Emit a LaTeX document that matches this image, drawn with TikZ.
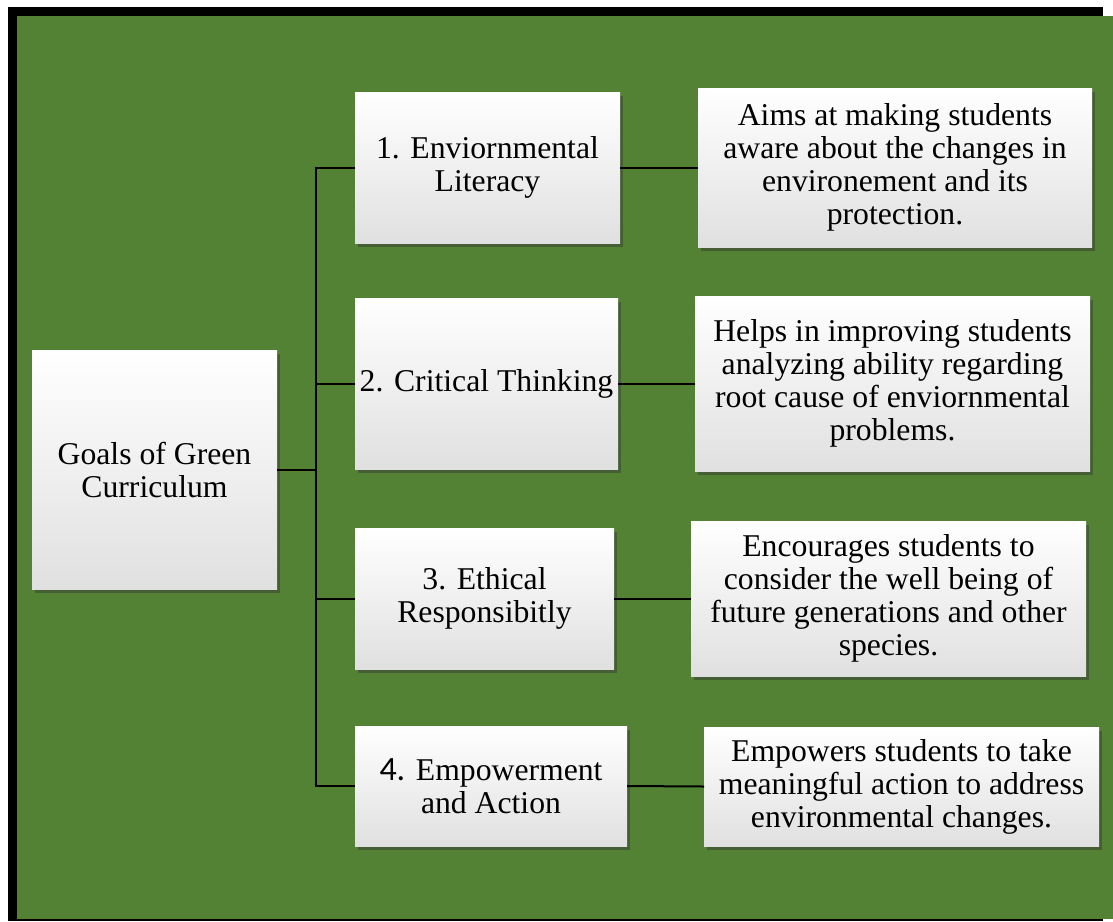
\documentclass[tikz,border=0pt]{standalone}
\usepackage{fontspec}
\setmainfont{Liberation Serif}
\newfontfamily\tnr{Liberation Serif}
\newfontfamily\calib{Carlito}
\usetikzlibrary{shadows}
\definecolor{bggreen}{RGB}{84,130,53}
\definecolor{boxgray}{RGB}{224,224,224}
\tikzset{
  box/.style={rectangle, inner sep=0pt, outer sep=0pt, align=center,
    top color=white, middle color=white, bottom color=boxgray,
    font=\tnr\fontsize{31.7}{33}\selectfont,
    drop shadow={shadow xshift=3pt, shadow yshift=-4pt, opacity=0.45, fill=black!80}},
  link/.style={line width=2pt, draw=black}
}
\begin{document}
\begin{tikzpicture}[x=1pt,y=-1pt]
\useasboundingbox (0,0) rectangle (1113,921);
\begin{scope}
\clip (0,0) rectangle (1113,921);
\fill[black] (8,7) rectangle (1103,921);
\fill[bggreen] (17,16) rectangle (1125,919);
\end{scope}

\node[box, minimum width=245pt, minimum height=239pt] (goals) at (154.5,469.5) {Goals of Green\\Curriculum};

\node[box, minimum width=265pt, minimum height=151pt] (b1) at (487.5,167.5) {1. Enviornmental\\Literacy};
\node[box, minimum width=263pt, minimum height=171pt] (b2) at (486.5,383.5) {2. Critical Thinking};
\node[box, minimum width=259pt, minimum height=141pt] (b3) at (484.5,598.5) {3. Ethical\\Responsibitly};
\node[box, minimum width=272pt, minimum height=120pt] (b4) at (491,786) {{\calib\fontsize{34}{33}\selectfont 4.} Empowerment\\and Action};

\node[box, minimum width=394pt, minimum height=159pt] (r1) at (895,167.5) {Aims at making students\\aware about the changes in\\environement and its\\protection.};
\node[box, minimum width=395pt, minimum height=175pt] (r2) at (892.5,383.5) {Helps in improving students\\analyzing ability regarding\\root cause of enviornmental\\problems.};
\node[box, minimum width=395pt, minimum height=155pt] (r3) at (888.5,598.5) {Encourages students to\\consider the well being of\\future generations and other\\species.};
\node[box, minimum width=395pt, minimum height=119pt] (r4) at (901.5,786.5) {Empowers students to take\\meaningful action to address\\environmental changes.};

\coordinate (tr) at (316,0);
\draw[link] (b1.west) -- (b1.west -| tr) -- (b4.west -| tr) -- (b4.west);
\draw[link] (b2.west -| tr) -- (b2.west);
\draw[link] (b3.west -| tr) -- (b3.west);
\draw[link] (goals.east) -- (goals.east -| tr);
\draw[link] (b1.east) -- (r1.west);
\draw[link] (b2.east) -- (r2.west);
\draw[link] (b3.east) -- (r3.west);
\draw[link] (b4.east) -- (r4.west);
\end{tikzpicture}
\end{document}
